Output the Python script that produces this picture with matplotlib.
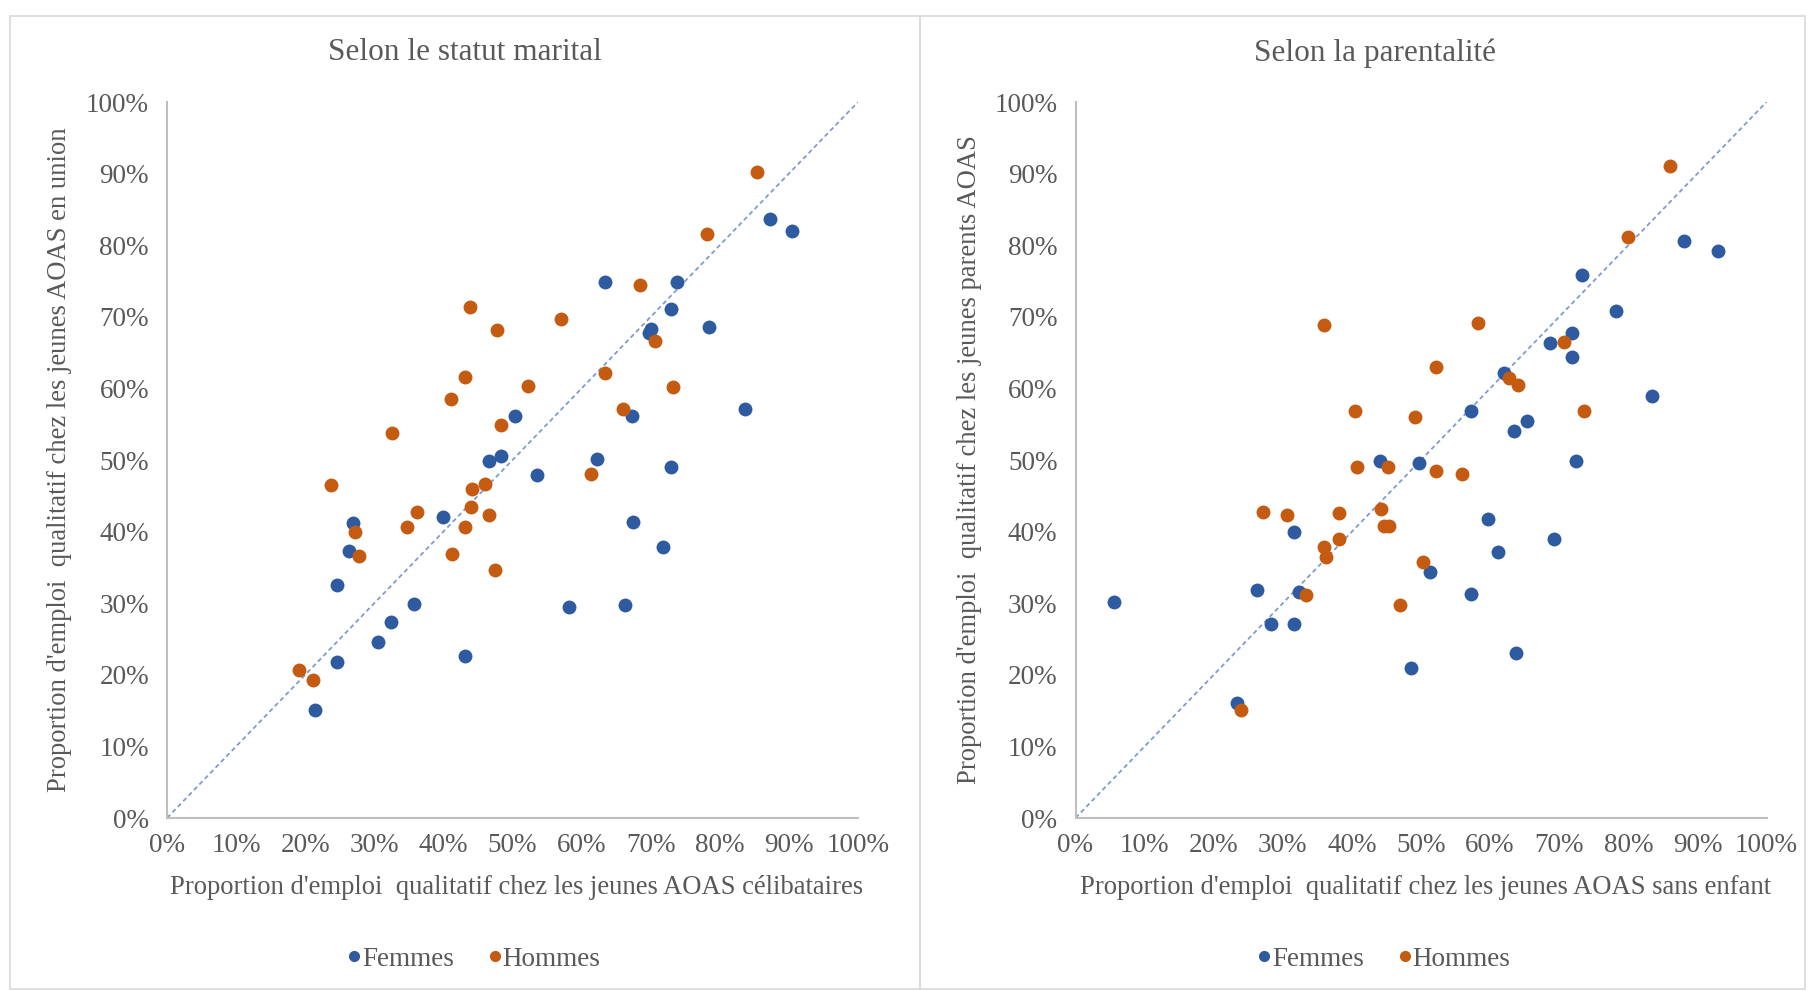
import numpy as np
import matplotlib.pyplot as plt
from matplotlib.patches import Rectangle
from matplotlib.lines import Line2D
from matplotlib.ticker import PercentFormatter

# statut marital : célibataires (x) vs en union (y)
fem_marital_x = [0.214, 0.246, 0.246, 0.263, 0.269, 0.306, 0.324, 0.358, 0.399, 0.431,
                 0.466, 0.483, 0.504, 0.536, 0.582, 0.622, 0.634, 0.663, 0.673, 0.675,
                 0.700, 0.698, 0.718, 0.729, 0.729, 0.738, 0.785, 0.837, 0.872, 0.904]
fem_marital_y = [0.151, 0.218, 0.325, 0.373, 0.412, 0.246, 0.274, 0.299, 0.420, 0.226,
                 0.499, 0.505, 0.561, 0.479, 0.294, 0.501, 0.748, 0.297, 0.562, 0.414,
                 0.683, 0.678, 0.378, 0.711, 0.490, 0.748, 0.686, 0.571, 0.837, 0.820]
hom_marital_x = [0.191, 0.211, 0.237, 0.272, 0.278, 0.325, 0.347, 0.362, 0.411, 0.413,
                 0.431, 0.431, 0.438, 0.440, 0.442, 0.460, 0.466, 0.475, 0.478, 0.483,
                 0.522, 0.570, 0.614, 0.634, 0.660, 0.684, 0.706, 0.732, 0.782, 0.854]
hom_marital_y = [0.207, 0.193, 0.465, 0.400, 0.366, 0.538, 0.406, 0.428, 0.585, 0.369,
                 0.616, 0.406, 0.714, 0.434, 0.459, 0.467, 0.423, 0.347, 0.681, 0.549,
                 0.604, 0.697, 0.481, 0.622, 0.571, 0.745, 0.666, 0.602, 0.815, 0.902]

# parentalité : sans enfant (x) vs parents (y)
fem_parent_x = [0.055, 0.234, 0.263, 0.283, 0.316, 0.316, 0.323, 0.440, 0.486, 0.497,
                0.513, 0.573, 0.573, 0.597, 0.611, 0.620, 0.635, 0.637, 0.654, 0.686,
                0.692, 0.718, 0.718, 0.724, 0.733, 0.782, 0.834, 0.880, 0.930]
fem_parent_y = [0.302, 0.160, 0.319, 0.271, 0.271, 0.400, 0.316, 0.499, 0.210, 0.496,
                0.344, 0.313, 0.568, 0.417, 0.372, 0.622, 0.541, 0.230, 0.555, 0.663,
                0.389, 0.677, 0.644, 0.499, 0.759, 0.708, 0.589, 0.806, 0.792]
hom_parent_x = [0.240, 0.272, 0.306, 0.333, 0.359, 0.359, 0.362, 0.382, 0.382, 0.405,
                0.408, 0.442, 0.446, 0.454, 0.452, 0.469, 0.492, 0.503, 0.521, 0.521,
                0.559, 0.582, 0.628, 0.640, 0.707, 0.736, 0.799, 0.860]
hom_parent_y = [0.151, 0.428, 0.423, 0.311, 0.689, 0.379, 0.364, 0.426, 0.389, 0.568,
                0.490, 0.431, 0.408, 0.408, 0.490, 0.297, 0.560, 0.358, 0.630, 0.484,
                0.481, 0.692, 0.614, 0.605, 0.665, 0.568, 0.812, 0.910]

titles = ["Selon le statut marital", "Selon la parentalité"]
xlabels = ["Proportion d'emploi  qualitatif chez les jeunes AOAS célibataires",
           "Proportion d'emploi  qualitatif chez les jeunes AOAS sans enfant"]
ylabels = ["Proportion d'emploi  qualitatif chez les jeunes AOAS en union",
           "Proportion d'emploi  qualitatif chez les jeunes parents AOAS"]

blue = "#2e5aa0"
orange = "#c55a11"
grey = "#595959"

plt.rcParams['font.family'] = ['Liberation Serif', 'DejaVu Serif']

W, H = 1809, 991
fig = plt.figure(figsize=(W / 100, H / 100), dpi=100)

# cadres des deux graphiques
for x0, x1 in [(10, 920), (920, 1805)]:
    fig.patches.append(Rectangle((x0 / W, 1 - 989 / H), (x1 - x0) / W, (989 - 16) / H,
                                 transform=fig.transFigure, fill=False,
                                 edgecolor="#d9d9d9", linewidth=1.2))

data = [(fem_marital_x, fem_marital_y, hom_marital_x, hom_marital_y),
        (fem_parent_x, fem_parent_y, hom_parent_x, hom_parent_y)]
ax_left = [167, 1075.5]
panel_center = [465, 1375]
ylab_x = [60, 969]

for i in range(2):
    fx, fy, hx, hy = data[i]
    ax = fig.add_axes([ax_left[i] / W, 1 - 818 / H, 691 / W, 716 / H])
    ax.plot([0, 1], [0, 1], color="#7f9bd0", linewidth=1.3, linestyle=(0, (2.5, 1.8)), zorder=1)
    ax.scatter(fx, fy, s=100, color=blue, linewidths=0, zorder=3)
    ax.scatter(hx, hy, s=100, color=orange, linewidths=0, zorder=3)
    ax.set_xlim(0, 1)
    ax.set_ylim(0, 1)
    ax.set_xticks(np.arange(0, 1.01, 0.1))
    ax.set_yticks(np.arange(0, 1.01, 0.1))
    ax.xaxis.set_major_formatter(PercentFormatter(1.0, decimals=0))
    ax.yaxis.set_major_formatter(PercentFormatter(1.0, decimals=0))
    ax.tick_params(length=0, labelsize=19.5, labelcolor=grey)
    ax.tick_params(axis='x', pad=11)
    ax.tick_params(axis='y', pad=13)
    for s in ['top', 'right']:
        ax.spines[s].set_visible(False)
    for s in ['left', 'bottom']:
        ax.spines[s].set_color("#bfbfbf")
        ax.spines[s].set_linewidth(1.5)
    ax.patch.set_alpha(0)

    fig.text(panel_center[i] / W, 1 - 53 / H, titles[i], ha='center', va='center',
             fontsize=22.5, color=grey)
    fig.text((ax_left[i] + 350) / W, 1 - 887 / H, xlabels[i], ha='center', va='center',
             fontsize=19.2, color=grey)
    fig.text(ylab_x[i] / W, 1 - 460 / H, ylabels[i], ha='center', va='center',
             rotation=90, fontsize=19.2, color=grey)

    handles = [Line2D([], [], marker='o', linestyle='', markersize=7, color=blue, label='Femmes'),
               Line2D([], [], marker='o', linestyle='', markersize=7, color=orange, label='Hommes')]
    fig.legend(handles=handles, loc='center', bbox_to_anchor=(panel_center[i] / W + 0.003, 1 - 959 / H),
               ncol=2, frameon=False, fontsize=19.5, labelcolor=grey,
               handletextpad=-0.2, columnspacing=1.0, handlelength=1.0)

plt.savefig("out.png", dpi=100)
